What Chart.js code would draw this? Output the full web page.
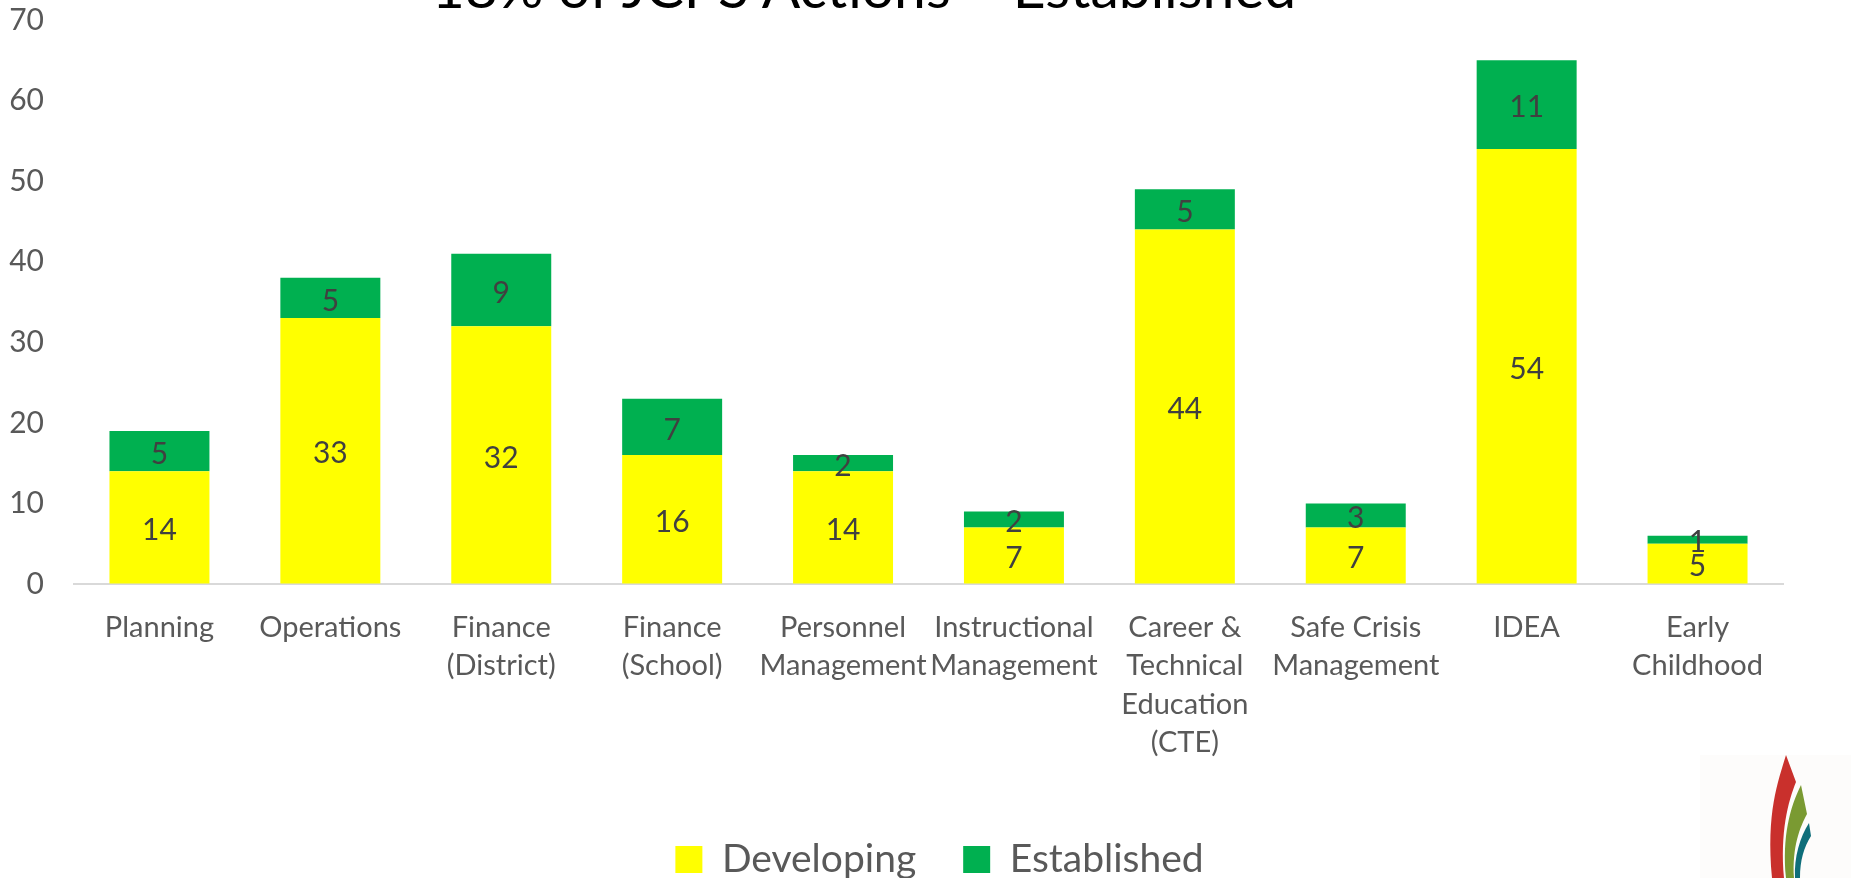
<!DOCTYPE html>
<html>
<head>
<meta charset="utf-8">
<script src="https://cdn.jsdelivr.net/npm/chart.js@4/dist/chart.umd.min.js"></script>
<style>
    html, body { margin: 0; padding: 0; background: #fff; overflow: hidden; }
    #wrap { position: relative; width: 1851px; height: 878px; overflow: hidden; }
    #title {
        position: absolute; left: 0; width: 1728px; top: -42px;
        text-align: center; font-family: Lato, sans-serif; font-size: 57px;
        line-height: 57px; color: #000; white-space: nowrap;
    }
    #logo { position: absolute; left: 1700px; top: 752px; }
</style>
</head>
<body>
<div id="wrap">
    <canvas id="chart" width="1851" height="878"></canvas>
    <div id="title">18% of JCPS Actions – Established</div>
    <svg id="logo" width="151" height="126" viewBox="0 0 151 126">
        <rect x="0" y="3" width="151" height="123" fill="#fdfcfb"/>
        <path d="M86 3 C78 30 66 60 72 126 L84 126 C80 80 88 50 96 30 Z" fill="#c9302c"/>
        <path d="M101 33 C90 55 82 85 86 126 L94 126 C92 95 100 75 107 62 Z" fill="#7a9a32"/>
        <path d="M109 71 C100 85 94 105 95 126 L100 126 C100 108 104 95 111 84 Z" fill="#0f6e7a"/>
    </svg>
</div>
<script>
const categories = [
    ['Planning'],
    ['Operations'],
    ['Finance', '(District)'],
    ['Finance', '(School)'],
    ['Personnel', 'Management'],
    ['Instructional', 'Management'],
    ['Career &', 'Technical', 'Education', '(CTE)'],
    ['Safe Crisis', 'Management'],
    ['IDEA'],
    ['Early', 'Childhood']
];
const developing = [14, 33, 32, 16, 14, 7, 44, 7, 54, 5];
const established = [5, 5, 9, 7, 2, 2, 5, 3, 11, 1];
const yMin = 0;
const yMax = 70;
const yStep = 10;

const textColor = '#595959';
const fontFamily = 'Lato, sans-serif';

// value labels centred in each stacked segment
const segmentLabels = {
    id: 'segmentLabels',
    afterDatasetsDraw(chart) {
        const ctx = chart.ctx;
        ctx.save();
        ctx.font = `30px ${fontFamily}`;
        ctx.fillStyle = '#404040';
        ctx.textAlign = 'center';
        ctx.textBaseline = 'middle';
        chart.data.datasets.forEach((ds, i) => {
            const meta = chart.getDatasetMeta(i);
            meta.data.forEach((bar, j) => {
                const { x, y, base } = bar.getProps(['x', 'y', 'base'], true);
                ctx.fillText(ds.data[j], x, (y + base) / 2 + 3);
            });
        });
        ctx.restore();
    }
};

// legend sits a little right of the plot centre in the original
const legendShift = {
    id: 'legendShift',
    afterLayout(chart) {
        chart.legend.left += 48;
        chart.legend.right += 48;
    }
};

new Chart(document.getElementById('chart'), {
    type: 'bar',
    data: {
        labels: categories,
        datasets: [
            {
                label: 'Developing',
                data: developing,
                backgroundColor: '#FFFF00',
                categoryPercentage: 1,
                barPercentage: 0.585
            },
            {
                label: 'Established',
                data: established,
                backgroundColor: '#00B050',
                categoryPercentage: 1,
                barPercentage: 0.585
            }
        ]
    },
    options: {
        responsive: false,
        animation: false,
        layout: { padding: { top: 16, left: 0, right: 68, bottom: -11 } },
        plugins: {
            legend: {
                position: 'bottom',
                labels: {
                    color: textColor,
                    font: { family: fontFamily, size: 39 },
                    boxWidth: 27,
                    boxHeight: 27,
                    padding: 47
                }
            },
            tooltip: { enabled: false }
        },
        scales: {
            x: {
                stacked: true,
                grid: { display: true, color: 'transparent', drawTicks: true, tickLength: 24 },
                border: { display: true, color: '#D9D9D9', width: 2 },
                ticks: {
                    color: textColor,
                    font: { family: fontFamily, size: 29, lineHeight: 1.33 },
                    padding: 0,
                    maxRotation: 0,
                    autoSkip: false
                },
                afterFit(scale) { scale.height = 209; }
            },
            y: {
                stacked: true,
                min: yMin,
                max: yMax,
                grid: { display: true, color: 'transparent', drawTicks: true, tickLength: 28 },
                border: { display: false },
                ticks: {
                    stepSize: yStep,
                    color: textColor,
                    font: { family: fontFamily, size: 30 },
                    padding: 2
                },
                afterFit(scale) { scale.width = 74; }
            }
        }
    },
    plugins: [segmentLabels, legendShift]
});
</script>
</body>
</html>
